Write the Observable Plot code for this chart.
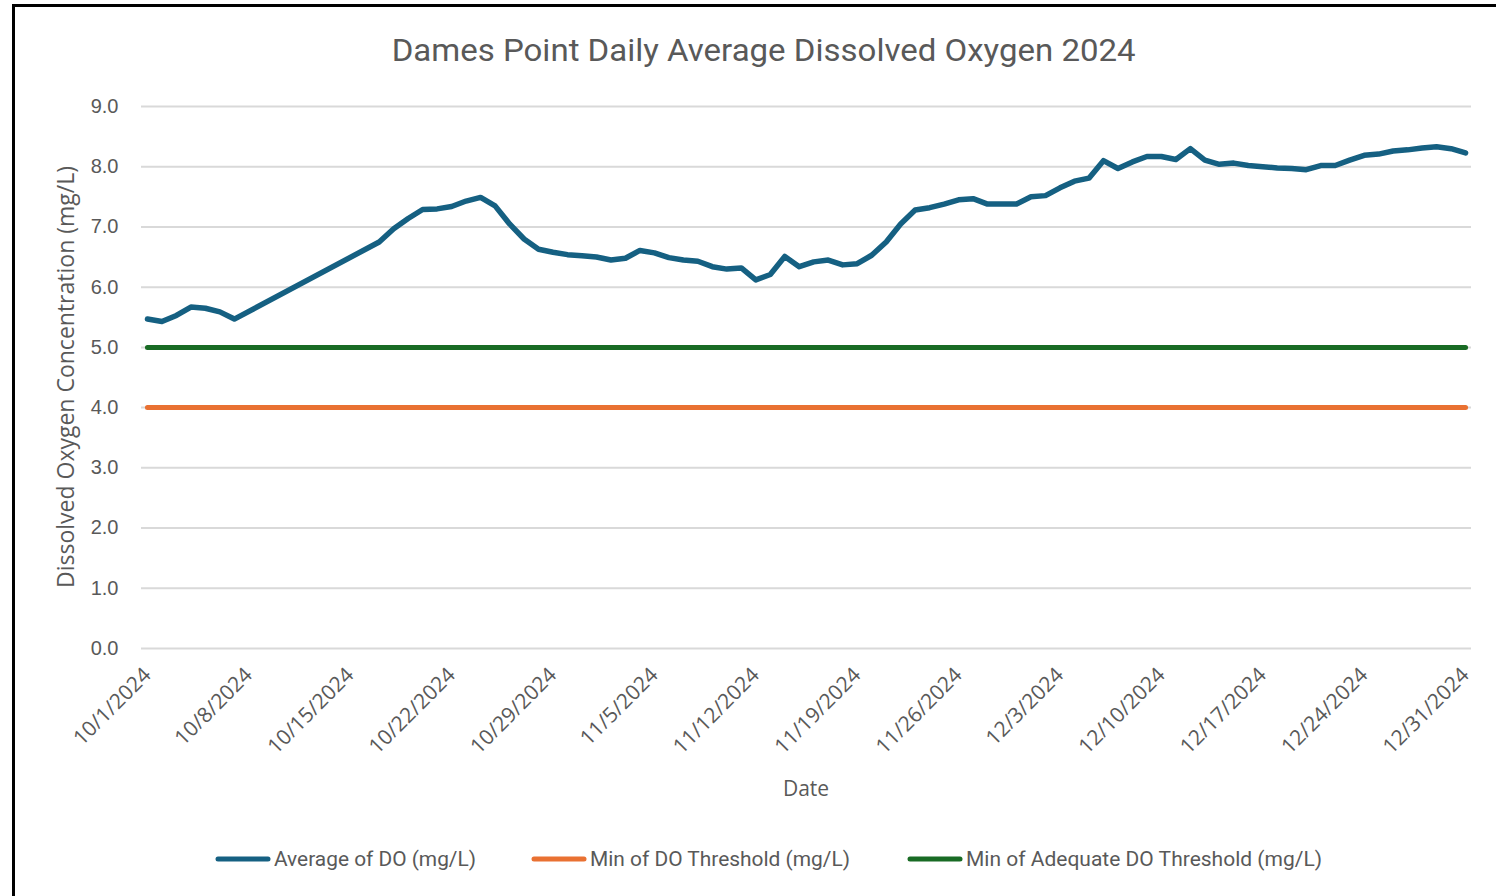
<!DOCTYPE html>
<html><head><meta charset="utf-8">
<script src="https://cdn.jsdelivr.net/npm/d3@7"></script>
<script src="https://cdn.jsdelivr.net/npm/@observablehq/plot@0.6"></script>
<style>
html,body{margin:0;padding:0;background:#fff;}
body{width:1496px;height:896px;overflow:hidden;position:relative;font-family:"Open Sans","Liberation Sans",sans-serif;color:#595959;}
#frame{position:absolute;left:12px;top:4px;width:1600px;height:1000px;border-left:3px solid #000;border-top:3px solid #000;box-sizing:border-box;}
#title{position:absolute;left:0;top:31px;width:1528px;text-align:center;}
#title span{display:inline-block;font-family:Roboto,"Open Sans",sans-serif;font-size:32px;color:#595959;white-space:nowrap;transform-origin:center;}
#chart{position:absolute;left:0;top:70px;}
#ylabel{position:absolute;left:65px;top:377px;transform:translate(-50%,-50%) rotate(-90deg);white-space:nowrap;font-size:23px;color:#595959;}
#xlabel{position:absolute;left:806px;top:788px;transform:translate(-50%,-50%);font-size:21px;color:#595959;}
.leg{position:absolute;top:847px;height:24px;display:flex;align-items:center;white-space:nowrap;}
.leg svg{display:block;margin-right:3px;}
.leg span{display:inline-block;font-family:Roboto,sans-serif;font-size:20px;color:#595959;transform-origin:left center;}
</style>
</head><body>
<div id="frame"></div>
<div id="title"><span id="titletext">Dames Point Daily Average Dissolved Oxygen 2024</span></div>
<div id="chart"></div>
<div id="ylabel">Dissolved Oxygen Concentration (mg/L)</div>
<div id="xlabel">Date</div>
<div id="legend"></div>
<script>
// ---- data ----
const dates = [
 "2024-10-01","2024-10-02","2024-10-03","2024-10-04","2024-10-05","2024-10-06","2024-10-07",
 "2024-10-17","2024-10-18","2024-10-19","2024-10-20","2024-10-21","2024-10-22","2024-10-23","2024-10-24",
 "2024-10-25","2024-10-26","2024-10-27","2024-10-28","2024-10-29","2024-10-30","2024-10-31",
 "2024-11-01","2024-11-02","2024-11-03","2024-11-04","2024-11-05","2024-11-06","2024-11-07","2024-11-08",
 "2024-11-09","2024-11-10","2024-11-11","2024-11-12","2024-11-13","2024-11-14","2024-11-15","2024-11-16",
 "2024-11-17","2024-11-18","2024-11-19","2024-11-20","2024-11-21","2024-11-22","2024-11-23","2024-11-24",
 "2024-11-25","2024-11-26","2024-11-27","2024-11-28","2024-11-29","2024-11-30",
 "2024-12-01","2024-12-02","2024-12-03","2024-12-04","2024-12-05","2024-12-06","2024-12-07","2024-12-08",
 "2024-12-09","2024-12-10","2024-12-11","2024-12-12","2024-12-13","2024-12-14","2024-12-15","2024-12-16",
 "2024-12-17","2024-12-18","2024-12-19","2024-12-20","2024-12-21","2024-12-22","2024-12-23","2024-12-24",
 "2024-12-25","2024-12-26","2024-12-27","2024-12-28","2024-12-29","2024-12-30","2024-12-31"
];
const avgDO = [
 5.47,5.43,5.53,5.67,5.65,5.59,5.47,
 6.75,6.97,7.14,7.29,7.30,7.34,7.43,7.49,
 7.35,7.05,6.80,6.63,6.58,6.54,6.52,
 6.50,6.45,6.48,6.61,6.57,6.49,6.45,6.43,
 6.34,6.30,6.32,6.12,6.21,6.51,6.34,6.42,
 6.45,6.37,6.39,6.53,6.75,7.05,7.28,7.32,
 7.38,7.45,7.47,7.38,7.38,7.38,
 7.50,7.52,7.65,7.76,7.81,8.10,7.97,8.08,
 8.17,8.17,8.12,8.30,8.11,8.04,8.06,8.02,
 8.00,7.98,7.97,7.95,8.02,8.02,8.11,8.19,
 8.21,8.26,8.28,8.31,8.33,8.30,8.23
];
const thresholdDates = ["2024-10-01","2024-12-31"];
const minDOThreshold = [4.0, 4.0];
const minAdequateThreshold = [5.0, 5.0];
const xTickDates = ["2024-10-01","2024-10-08","2024-10-15","2024-10-22","2024-10-29","2024-11-05","2024-11-12",
 "2024-11-19","2024-11-26","2024-12-03","2024-12-10","2024-12-17","2024-12-24","2024-12-31"];
const yTicks = [0,1,2,3,4,5,6,7,8,9];
const seriesNames = ["Average of DO (mg/L)","Min of DO Threshold (mg/L)","Min of Adequate DO Threshold (mg/L)"];
const seriesColors = ["#156082","#E97132","#196B24"];

// ---- build ----
const parse = d3.utcParse("%Y-%m-%d");
const avgData = dates.map((d,i)=>({date:parse(d), value:avgDO[i]}));
const minData = thresholdDates.map((d,i)=>({date:parse(d), value:minDOThreshold[i]}));
const adqData = thresholdDates.map((d,i)=>({date:parse(d), value:minAdequateThreshold[i]}));
const day = 864e5;
const x0 = parse("2024-10-01"), x1 = parse("2024-12-31");
const fmt = d => `${d.getUTCMonth()+1}/${d.getUTCDate()}/${d.getUTCFullYear()}`;

const chart = Plot.plot({
  width:1496, height:740,
  marginLeft:141, marginRight:25, marginTop:36, marginBottom:162,
  style:{background:"transparent", overflow:"visible", color:"#595959"},
  x:{type:"utc", domain:[new Date(+x0 - 0.41*day), new Date(+x1 + 0.41*day)]},
  y:{domain:[0,9]},
  marks:[
    Plot.gridY(yTicks,{stroke:"#d9d9d9", strokeOpacity:1, strokeWidth:2}),
    Plot.axisY(yTicks,{tickSize:0, tickPadding:23, tickFormat:d=>d.toFixed(1), label:null, fontSize:20, fontFamily:"Liberation Sans", fill:"#595959"}),
    Plot.axisX(xTickDates.map(parse),{tickSize:0, tickPadding:23, tickRotate:-45, tickFormat:fmt, label:null, fontSize:21, fontFamily:"Open Sans", fill:"#595959"}),
    Plot.line(adqData,{x:"date", y:"value", stroke:seriesColors[2], strokeWidth:5, strokeLinecap:"round"}),
    Plot.line(minData,{x:"date", y:"value", stroke:seriesColors[1], strokeWidth:5, strokeLinecap:"round"}),
    Plot.line(avgData,{x:"date", y:"value", stroke:seriesColors[0], strokeWidth:5.5, strokeLinecap:"round", strokeLinejoin:"round"})
  ]
});
document.getElementById("chart").appendChild(chart);

// title fit
const tt = document.getElementById("titletext");
tt.style.transform = `scaleX(${744/tt.getBoundingClientRect().width})`;

// legend
const legX = [215, 531, 907];
const legTextW = [202, 260, 356];
const legend = document.getElementById("legend");
seriesNames.forEach((name,i)=>{
  const item = document.createElement("div");
  item.className = "leg";
  item.style.left = legX[i] + "px";
  item.innerHTML = `<svg width="56" height="8"><line x1="3" y1="4" x2="53" y2="4" stroke="${seriesColors[i]}" stroke-width="5" stroke-linecap="round"/></svg><span>${name}</span>`;
  legend.appendChild(item);
  const sp = item.querySelector("span");
  sp.style.transform = `scaleX(${legTextW[i]/sp.getBoundingClientRect().width})`;
});
</script>
</body></html>
